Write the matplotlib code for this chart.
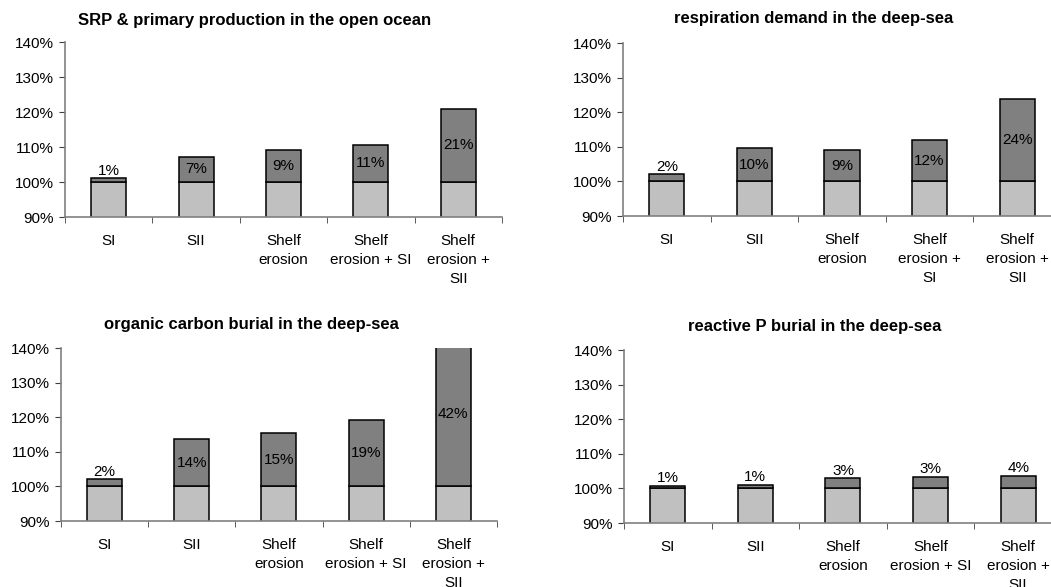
import matplotlib
matplotlib.use('Agg')
import matplotlib.pyplot as plt
import numpy as np

plt.rcParams['font.family'] = ['Liberation Sans', 'DejaVu Sans']

# scenarios, increase above the 100% reference run
labels_a = ['SI', 'SII', 'Shelf\nerosion', 'Shelf\nerosion + SI', 'Shelf\nerosion +\nSII']
labels_b = ['SI', 'SII', 'Shelf\nerosion', 'Shelf\nerosion +\nSI', 'Shelf\nerosion +\nSII']
base = [100, 100, 100, 100, 100]

titles = ['SRP & primary production in the open ocean',
          'respiration demand in the deep-sea',
          'organic carbon burial in the deep-sea',
          'reactive P burial in the deep-sea']
srp_pp = [1.05, 7.25, 9.2, 10.6, 21.0]
resp = [2.1, 9.75, 9.2, 11.9, 23.9]
corg = [2.1, 13.8, 15.4, 19.1, 42.0]
reac_p = [0.77, 1.06, 3.0, 3.4, 3.65]

fig = plt.figure(figsize=(10.51, 5.87), dpi=100)

# [left, bottom, width, height], title centre (x, y) in pixels
panels = [
    ([0.0618, 0.6303, 0.4158, 0.2981], (255, 20), srp_pp, labels_a),
    ([0.5928, 0.6320, 0.4167, 0.2947], (814, 19), resp, labels_b),
    ([0.0580, 0.1124, 0.4148, 0.2947], (251, 325), corg, labels_a),
    ([0.5937, 0.1090, 0.4167, 0.2947], (815, 327), reac_p, labels_a),
]

x = np.arange(5)
for (rect, tpos, inc, labs), title in zip(panels, titles):
    ax = fig.add_axes(rect)
    ax.bar(x, base, width=0.4, color='#c0c0c0', edgecolor='black', linewidth=1.1)
    ax.bar(x, inc, bottom=base, width=0.4, color='#808080', edgecolor='black', linewidth=1.1)
    for xi, b, v in zip(x, base, inc):
        if v < 4:
            ax.text(xi, b + v + 0.1, f'{v:.0f}%', ha='center', va='bottom', fontsize=11)
        else:
            ax.text(xi, b + v / 2, f'{v:.0f}%', ha='center', va='center', fontsize=11)
    ax.set_xlim(-0.5, 4.5)
    ax.set_ylim(90, 140)
    ax.set_yticks(range(90, 141, 10))
    ax.set_yticklabels([f'{t}%' for t in range(90, 141, 10)])
    ax.set_xticks(x)
    ax.set_xticklabels(labs, linespacing=1.45)
    ax.set_xticks(np.arange(-0.5, 5, 1), minor=True)
    ax.tick_params(axis='x', which='major', length=0, pad=12.5, labelsize=11)
    ax.tick_params(axis='x', which='minor', length=4, color='#404040')
    ax.tick_params(axis='y', length=4, pad=4, labelsize=11, color='#404040')
    for s in ['top', 'right']:
        ax.spines[s].set_visible(False)
    for s in ['left', 'bottom']:
        ax.spines[s].set_color('#808080')
        ax.spines[s].set_linewidth(1.2)
    fig.text(tpos[0] / 1051, 1 - tpos[1] / 587, title, ha='center', va='center',
             fontsize=12, fontweight='bold')

fig.savefig('out.png', dpi=100)
